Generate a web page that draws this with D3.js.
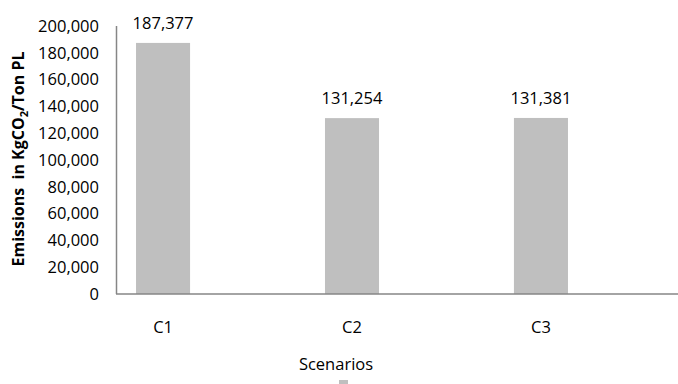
<!DOCTYPE html>
<html>
<head>
<meta charset="utf-8">
<script src="https://cdn.jsdelivr.net/npm/d3@7"></script>
<style>
  body { margin: 0; background: #fff; }
  text { font-family: 'Open Sans', sans-serif; fill: #000; }
</style>
</head>
<body>
<svg width="678" height="384"></svg>
<script>
  const categories = ['C1', 'C2', 'C3'];
  const values = [187377, 131254, 131381];
  const yTicks = [0, 20000, 40000, 60000, 80000, 100000, 120000, 140000, 160000, 180000, 200000];

  const svg = d3.select('svg');
  const fmt = d3.format(',');

  const xScale = d3.scaleBand()
    .domain(categories)
    .range([116, 588])
    .paddingInner(0.714)
    .paddingOuter(0.106);

  const yScale = d3.scaleLinear()
    .domain([0, 200000])
    .range([294, 26]);

  // bars
  svg.selectAll('rect.bar').data(values)
    .enter().append('rect')
    .attr('class', 'bar')
    .attr('x', (d, i) => xScale(categories[i]))
    .attr('y', d => yScale(d))
    .attr('width', xScale.bandwidth())
    .attr('height', d => yScale(0) - yScale(d))
    .attr('fill', '#bfbfbf');

  // value labels
  svg.selectAll('text.val').data(values)
    .enter().append('text')
    .attr('class', 'val')
    .attr('x', (d, i) => xScale(categories[i]) + xScale.bandwidth() / 2)
    .attr('y', d => yScale(d) - 14)
    .attr('text-anchor', 'middle')
    .style('font-size', '16.5px')
    .text(d => fmt(d));

  // y axis
  const yAxis = d3.axisLeft(yScale)
    .tickValues(yTicks)
    .tickSize(0)
    .tickPadding(17)
    .tickFormat(fmt);

  const yAxisG = svg.append('g')
    .attr('transform', 'translate(116,0)')
    .call(yAxis);
  yAxisG.select('.domain').remove();
  yAxisG.selectAll('text')
    .style('font-family', "'Open Sans', sans-serif")
    .style('font-size', '16.5px')
    .attr('fill', '#000');

  svg.append('line')
    .attr('x1', 116.5).attr('x2', 116.5)
    .attr('y1', yScale(200000)).attr('y2', yScale(0))
    .attr('stroke', '#868686').attr('stroke-width', 1.5);

  // x axis
  svg.append('line')
    .attr('x1', 116).attr('x2', 678)
    .attr('y1', yScale(0)).attr('y2', yScale(0))
    .attr('stroke', '#868686').attr('stroke-width', 1.5);

  svg.selectAll('text.cat').data(categories)
    .enter().append('text')
    .attr('class', 'cat')
    .attr('x', d => xScale(d) + xScale.bandwidth() / 2)
    .attr('y', 333)
    .attr('text-anchor', 'middle')
    .style('font-size', '16.5px')
    .text(d => d);

  // axis titles
  svg.append('text')
    .attr('x', 336)
    .attr('y', 370)
    .attr('text-anchor', 'middle')
    .style('font-size', '16.5px')
    .text('Scenarios');

  const yTitle = svg.append('text')
    .attr('transform', 'translate(24,159) rotate(-90)')
    .attr('text-anchor', 'middle')
    .style('font-size', '16px')
    .style('font-weight', 'bold')
    .style('white-space', 'pre');
  yTitle.append('tspan').text('Emissions  in KgCO');
  yTitle.append('tspan').attr('dy', 4).style('font-size', '11px').text('2');
  yTitle.append('tspan').attr('dy', -4).text('/Ton PL');

  // legend marker
  svg.append('rect')
    .attr('x', 339).attr('y', 380)
    .attr('width', 9).attr('height', 9)
    .attr('fill', '#bfbfbf');
</script>
</body>
</html>
